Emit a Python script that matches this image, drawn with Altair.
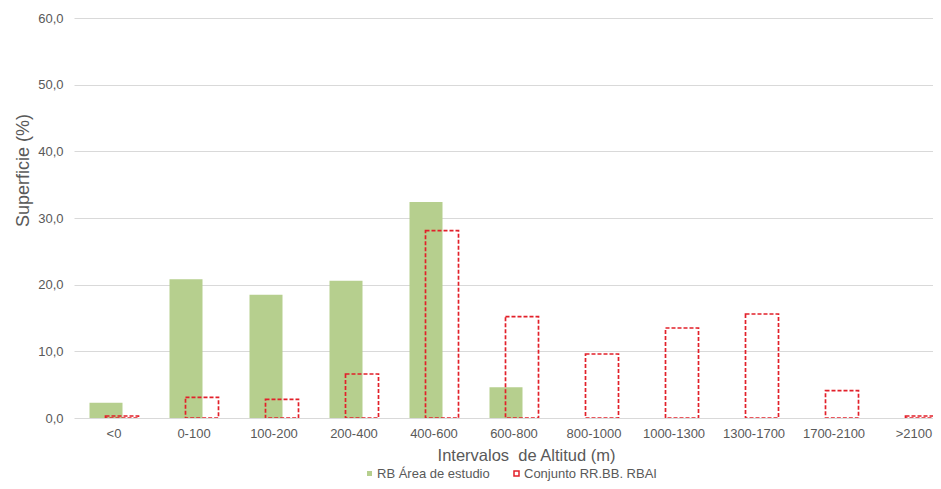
import altair as alt
import pandas as pd

categories = ["<0", "0-100", "100-200", "200-400", "400-600", "600-800",
              "800-1000", "1000-1300", "1300-1700", "1700-2100", ">2100"]
rb_area = [2.3, 20.8, 18.5, 20.6, 32.4, 4.6, 0.0, 0.0, 0.0, 0.0, 0.0]
conjunto = [0.3, 3.1, 2.8, 6.6, 28.1, 15.2, 9.6, 13.5, 15.6, 4.1, 0.3]
series_names = ["RB Área de estudio", "Conjunto RR.BB. RBAI"]
y_ticks = [0, 10, 20, 30, 40, 50, 60]

GREEN = "#b6cf8e"
RED = "#e2202a"
GRAY = "#595959"
FONT = "Liberation Sans"

df_g = pd.DataFrame({"cat": categories, "val": rb_area, "serie": series_names[0]})
df_r = pd.DataFrame({"cat": categories, "val": conjunto, "serie": series_names[1]})

x_enc = alt.X(
    "cat:N",
    sort=categories,
    scale=alt.Scale(range=[0, 880], paddingInner=0, paddingOuter=0),
    axis=alt.Axis(
        title="Intervalos\u00a0\u00a0de Altitud (m)",
        labelAngle=0, domain=False, ticks=False, tickSize=0, labelPadding=9,
        labelColor=GRAY, labelFontSize=13, labelFont=FONT,
        titleColor=GRAY, titleFontSize=16.5, titleFont=FONT, titleFontWeight="normal",
        titleX=452, titleY=37, titleAlign="center", titleBaseline="middle",
    ),
)

y_enc = alt.Y(
    "val:Q",
    scale=alt.Scale(domain=[0, 60], nice=False),
    axis=alt.Axis(
        title="Superficie (%)", values=y_ticks,
        labelExpr="replace(format(datum.value, '.1f'), '.', ',')",
        grid=True, gridColor="#d9d9d9", domain=False, ticks=False, tickSize=0,
        labelPadding=11, labelColor=GRAY, labelFontSize=13, labelFont=FONT,
        titleColor=GRAY, titleFontSize=18, titleFont=FONT, titleFontWeight="normal",
        titleX=-51, titleY=152, titleAlign="center", titleBaseline="middle", titleAngle=270,
    ),
)

green = alt.Chart(df_g).mark_bar(size=33, xOffset=-8, clip=True).encode(
    x=x_enc,
    y=y_enc,
    fill=alt.Fill(
        "serie:N",
        scale=alt.Scale(domain=[series_names[0]], range=[GREEN]),
        legend=alt.Legend(
            title=None, orient="none", legendX=289, legendY=449,
            symbolType="square", symbolSize=25, labelOffset=1,
            labelFontSize=13, labelFont=FONT, labelColor=GRAY,
        ),
    ),
)

red = alt.Chart(df_r).mark_bar(
    size=33, xOffset=8, clip=True, filled=False, strokeDash=[4, 2], strokeWidth=1.7
).encode(
    x=x_enc,
    y=y_enc,
    stroke=alt.Stroke(
        "serie:N",
        scale=alt.Scale(domain=[series_names[1]], range=[RED]),
        legend=alt.Legend(
            title=None, orient="none", legendX=436, legendY=449,
            symbolType="square", symbolSize=25, labelOffset=1, symbolStrokeWidth=1.5,
            labelFontSize=13, labelFont=FONT, labelColor=GRAY,
        ),
    ),
)

chart = alt.layer(green, red).properties(
    width=859, height=400,
    autosize=alt.AutoSizeParams(type="none"),
    padding={"left": 66, "top": 10, "right": 0, "bottom": 63},
    background="white",
).configure_view(stroke=None).resolve_scale(fill="independent", stroke="independent")

chart.save("out.html", embed_options={"renderer": "svg", "actions": False})
